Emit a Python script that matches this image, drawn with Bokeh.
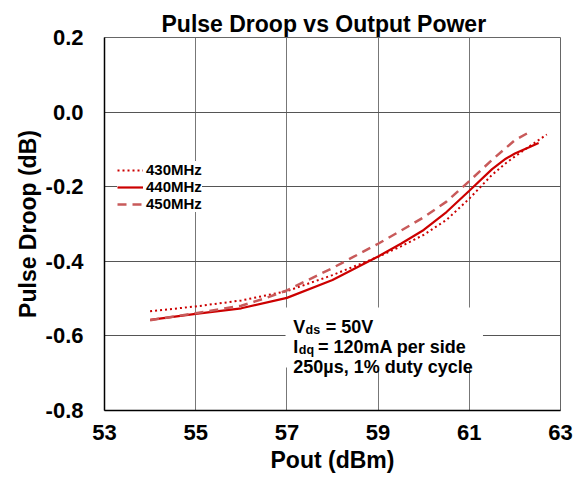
from bokeh.plotting import figure
from bokeh.models import (Legend, LegendItem, Label, BoxAnnotation, FixedTicker,
                          NumeralTickFormatter, Range1d)
from bokeh.embed import file_html
from bokeh.resources import INLINE

# ---- data ----
x_430 = [54.0, 55.0, 56.0, 57.0, 58.0, 59.0, 59.5, 60.0, 60.5, 61.0, 61.5, 61.8, 62.0, 62.4, 62.7]
y_430 = [-0.534, -0.521, -0.505, -0.480, -0.437, -0.388, -0.360, -0.329, -0.289, -0.232, -0.168, -0.137, -0.119, -0.085, -0.060]

x_440 = [54.0, 55.0, 56.0, 57.0, 58.0, 59.0, 59.5, 60.0, 60.5, 61.0, 61.5, 61.8, 62.0, 62.3, 62.52]
y_440 = [-0.557, -0.541, -0.526, -0.498, -0.450, -0.387, -0.353, -0.316, -0.268, -0.211, -0.153, -0.125, -0.111, -0.095, -0.083]

x_450 = [54.0, 55.0, 56.0, 56.5, 57.0, 58.0, 59.0, 59.5, 60.0, 60.5, 61.0, 61.5, 62.0, 62.27]
y_450 = [-0.558, -0.539, -0.519, -0.500, -0.478, -0.418, -0.353, -0.318, -0.282, -0.240, -0.185, -0.128, -0.075, -0.057]

series_names = ["430MHz", "440MHz", "450MHz"]
x_ticks = [53, 55, 57, 59, 61, 63]
y_ticks = [-0.8, -0.6, -0.4, -0.2, 0.0, 0.2]

FONT = "Liberation Sans"

p = figure(width=584, height=485, output_backend="svg", toolbar_location=None,
           x_range=Range1d(53, 63), y_range=Range1d(-0.8, 0.2),
           min_border_left=104, min_border_right=24, min_border_top=37, min_border_bottom=75,
           title="Pulse Droop vs Output Power")

p.title.text_font = FONT
p.title.text_font_size = "23px"
p.title.text_font_style = "bold"
p.title.text_color = "black"
p.title.align = "left"
p.title.offset = 57
p.title.standoff = 2

p.outline_line_color = "#666666"
p.outline_line_width = 1

for ax in (p.xaxis[0], p.yaxis[0]):
    ax.major_label_text_font = FONT
    ax.major_label_text_font_style = "bold"
    ax.major_label_text_font_size = "22px"
    ax.major_label_text_color = "black"
    ax.axis_label_text_font = FONT
    ax.axis_label_text_font_style = "bold"
    ax.axis_label_text_font_size = "23px"
    ax.axis_label_text_color = "black"
    ax.major_tick_line_color = None
    ax.minor_tick_line_color = None
    ax.major_tick_out = 0
    ax.major_tick_in = 0
    ax.axis_line_color = "black"
    ax.axis_line_width = 1.5

p.xaxis.ticker = FixedTicker(ticks=x_ticks)
p.yaxis.ticker = FixedTicker(ticks=y_ticks)
p.yaxis.formatter = NumeralTickFormatter(format="0.0")
p.xaxis.axis_label = "Pout (dBm)"
p.yaxis.axis_label = "Pulse Droop (dB)"
p.xaxis.major_label_standoff = 14
p.xaxis.axis_label_standoff = 4
p.yaxis.major_label_standoff = 21
p.yaxis.axis_label_standoff = 2

p.xgrid.grid_line_color = "#777777"
p.ygrid.grid_line_color = "#555555"
p.xgrid.grid_line_width = 1
p.ygrid.grid_line_width = 1

# white box behind annotation text
box = BoxAnnotation(left=56.97, right=61.30, top=-0.524, bottom=-0.685,
                    fill_color="white", fill_alpha=1.0, line_color=None, level="underlay")
p.add_layout(box)

r430 = p.line(x_430, y_430, line_color="#cc0000", line_width=2, line_dash="2 3")
r440 = p.line(x_440, y_440, line_color="#cc0000", line_width=2.2)
r450 = p.line(x_450, y_450, line_color="#c85a5a", line_width=2.5, line_dash="9 6")

legend = Legend(items=[LegendItem(label=series_names[0], renderers=[r430]),
                       LegendItem(label=series_names[1], renderers=[r440]),
                       LegendItem(label=series_names[2], renderers=[r450])],
                location=(13, 198))
legend.label_text_font = FONT
legend.label_text_font_size = "15px"
legend.label_text_font_style = "bold"
legend.label_text_color = "black"
legend.label_height = 16
legend.glyph_height = 16
legend.glyph_width = 26
legend.label_standoff = 3
legend.spacing = 0
legend.padding = 3
legend.margin = 0
legend.border_line_color = None
legend.background_fill_color = "white"
legend.background_fill_alpha = 1.0
p.add_layout(legend)

# annotation text (with subscripts)
def lab(x, y, t, size):
    p.add_layout(Label(x=x, y=y, text=t, text_font=FONT, text_font_style="bold",
                       text_font_size=size, text_color="black",
                       text_baseline="alphabetic", text_align="left"))

lab(57.14, -0.575, "V", "18px")
lab(57.41, -0.584, "ds", "12.5px")
lab(57.85, -0.575, "= 50V", "18px")
lab(57.14, -0.630, "I", "18px")
lab(57.26, -0.639, "dq", "12.5px")
lab(57.68, -0.630, "= 120mA per side", "18px")
lab(57.14, -0.684, "250\u00b5s, 1% duty cycle", "18px")

open("out.html", "w").write(file_html(p, INLINE))
